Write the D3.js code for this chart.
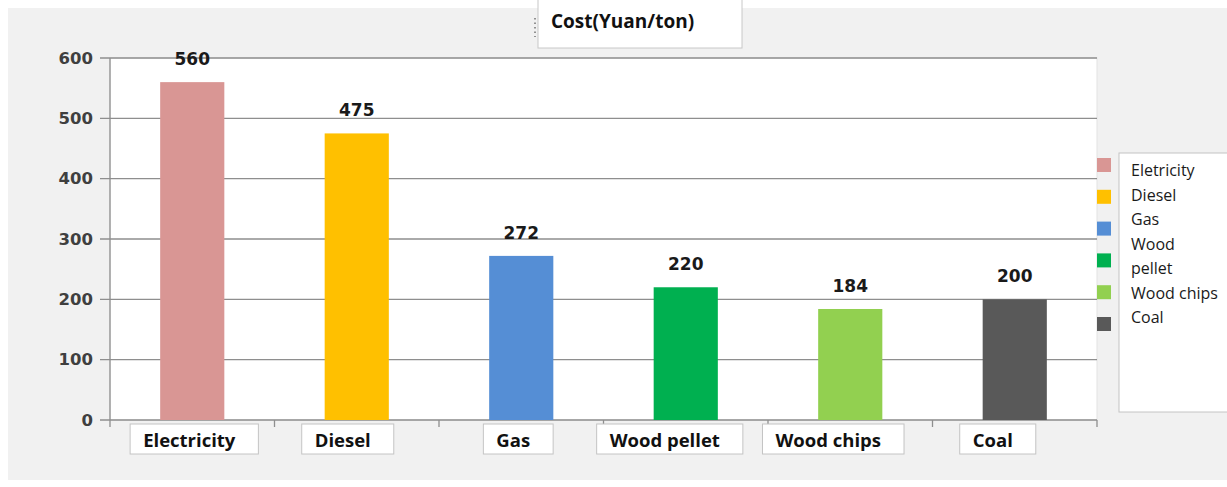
<!DOCTYPE html>
<html>
<head>
<meta charset="utf-8">
<script src="https://cdn.jsdelivr.net/npm/d3@7"></script>
<style>
    body { margin: 0; background: #fff; }
</style>
</head>
<body>
<div id="chart-area"></div>
<script>
// chart data
let categories = ["Electricity", "Diesel", "Gas", "Wood pellet", "Wood chips", "Coal"];
let costs = [560, 475, 272, 220, 184, 200];
let colors = ["#d99694", "#ffc000", "#558ed5", "#00b050", "#92d050", "#595959"];
let legendLines = [["Eletricity"], ["Diesel"], ["Gas"], ["Wood", "pellet"], ["Wood chips"], ["Coal"]];
let yTicks = [0, 100, 200, 300, 400, 500, 600];
let title = "Cost(Yuan/ton)";

// the category label boxes are a bit off-centre in the original
let labelShift = [2, -9, -3, -16, -17, -17];

let svg = d3.select("#chart-area")
    .append("svg")
    .attr("width", "1227")
    .attr("height", "487");

// grey panel
svg.append("rect")
    .attr("x", 8).attr("y", 8)
    .attr("width", 1219).attr("height", 472)
    .attr("fill", "#f1f1f1");

let x = d3.scaleBand()
    .domain(categories)
    .range([110, 1097])
    .padding(0);

let y = d3.scaleLinear()
    .domain([0, 600])
    .range([420, 58]);

// plot area
svg.append("rect")
    .attr("x", 110).attr("y", y(600))
    .attr("width", 987).attr("height", y(0) - y(600))
    .attr("fill", "#fff")
    .attr("stroke", "#e3e3e3");

// gridlines
svg.selectAll("line.grid").data(yTicks)
    .enter().append("line")
    .attr("class", "grid")
    .attr("x1", 100).attr("x2", 1097)
    .attr("y1", d => y(d)).attr("y2", d => y(d))
    .attr("stroke", "#8e8e8e")
    .attr("stroke-width", 1.3);

// y axis
let yAxis = d3.axisLeft(y)
    .tickValues(yTicks)
    .tickSizeInner(0)
    .tickSizeOuter(0)
    .tickPadding(17);

let gy = svg.append("g")
    .attr("transform", "translate(110,0)")
    .call(yAxis);
gy.select(".domain").remove();
gy.selectAll("text")
    .attr("font-family", "DejaVu Sans")
    .attr("font-weight", "bold")
    .attr("font-size", "16.5px")
    .attr("fill", "#3f3f3f");

svg.append("line")
    .attr("x1", 110).attr("x2", 110)
    .attr("y1", y(600)).attr("y2", 427)
    .attr("stroke", "#8e8e8e")
    .attr("stroke-width", 1.3);

// x ticks at category boundaries
let bounds = categories.map(c => x(c)).concat([x.range()[1]]);
svg.selectAll("line.xtick").data(bounds.slice(1))
    .enter().append("line")
    .attr("class", "xtick")
    .attr("x1", d => d).attr("x2", d => d)
    .attr("y1", y(0)).attr("y2", y(0) + 7)
    .attr("stroke", "#8e8e8e")
    .attr("stroke-width", 1.3);

// bars
let barW = x.bandwidth() * 0.39;
svg.selectAll("rect.bar").data(costs)
    .enter().append("rect")
    .attr("class", "bar")
    .attr("x", (d, i) => x(categories[i]) + x.bandwidth() / 2 - barW / 2)
    .attr("y", d => y(d))
    .attr("width", barW)
    .attr("height", d => y(0) - y(d))
    .attr("fill", (d, i) => colors[i]);

// value labels
svg.selectAll("text.value").data(costs)
    .enter().append("text")
    .attr("class", "value")
    .attr("x", (d, i) => x(categories[i]) + x.bandwidth() / 2)
    .attr("y", d => y(d) - 17)
    .attr("text-anchor", "middle")
    .attr("font-family", "DejaVu Sans")
    .attr("font-weight", "bold")
    .attr("font-size", "17px")
    .attr("fill", "#1a1a1a")
    .text(d => d);

// category labels in boxes
let labelG = svg.selectAll("g.cat").data(categories)
    .enter().append("g")
    .attr("class", "cat");

labelG.each(function (d, i) {
    let g = d3.select(this);
    let rect = g.append("rect");
    let t = g.append("text")
        .attr("font-family", "Open Sans")
        .attr("font-weight", "bold")
        .attr("font-size", "18.5px")
        .attr("fill", "#111")
        .text(d);
    let w = t.node().getComputedTextLength();
    let boxW = w + 36;
    let cx = x(d) + x.bandwidth() / 2 + labelShift[i];
    rect.attr("x", cx - boxW / 2)
        .attr("y", 424)
        .attr("width", boxW)
        .attr("height", 30)
        .attr("fill", "#fff")
        .attr("stroke", "#c4c4c4");
    t.attr("x", cx - boxW / 2 + 13)
        .attr("y", 447);
});

// legend
svg.append("rect")
    .attr("x", 1119).attr("y", 153)
    .attr("width", 120).attr("height", 259)
    .attr("fill", "#fff")
    .attr("stroke", "#c4c4c4");

let swatchY = d3.scaleLinear().domain([0, 5]).range([165, 324]);
svg.selectAll("rect.swatch").data(colors)
    .enter().append("rect")
    .attr("class", "swatch")
    .attr("x", 1097)
    .attr("y", (d, i) => swatchY(i) - 7)
    .attr("width", 14).attr("height", 14)
    .attr("fill", d => d);

let flatLines = legendLines.flat();
let lineY = d3.scaleLinear().domain([0, flatLines.length - 1]).range([176, 323]);
svg.selectAll("text.legend").data(flatLines)
    .enter().append("text")
    .attr("class", "legend")
    .attr("x", 1131)
    .attr("y", (d, i) => lineY(i))
    .attr("font-family", "Open Sans")
    .attr("font-size", "16px")
    .attr("fill", "#1a1a1a")
    .text(d => d);

// title box
svg.append("rect")
    .attr("x", 538).attr("y", -2)
    .attr("width", 204).attr("height", 50)
    .attr("fill", "#fff")
    .attr("stroke", "#c8c8c8");

svg.append("line")
    .attr("x1", 535).attr("x2", 535)
    .attr("y1", 18).attr("y2", 37)
    .attr("stroke", "#333")
    .attr("stroke-dasharray", "1.5,3");

svg.append("text")
    .attr("x", 551).attr("y", 28)
    .attr("font-family", "Open Sans")
    .attr("font-weight", "bold")
    .attr("font-size", "19px")
    .attr("fill", "#111")
    .text(title);
</script>
</body>
</html>
